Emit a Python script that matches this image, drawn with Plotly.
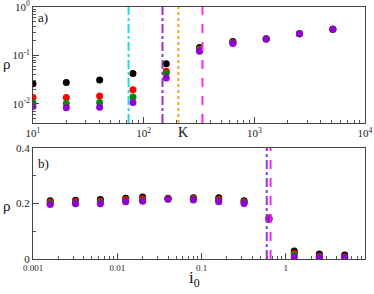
import plotly.graph_objects as go

# ---- data: panel a) rho vs K ----
K = [10, 20, 40, 80, 160, 320, 640, 1280, 2560, 5120]
rho_a_black = [0.026, 0.0275, 0.031, 0.042, 0.067, 0.145, 0.193, 0.220, 0.281, 0.348]
rho_a_red = [0.0135, 0.0135, 0.0144, 0.0195, 0.047, 0.136, 0.185, 0.219, 0.280, 0.347]
rho_a_green = [0.0103, 0.0101, 0.0106, 0.0138, 0.043, 0.130, 0.180, 0.218, 0.280, 0.347]
rho_a_purple = [0.0087, 0.0082, 0.0084, 0.0106, 0.034, 0.122, 0.175, 0.218, 0.279, 0.346]
vlines_a = [73, 148, 206, 340]
vcolors_a = ["#22d8e8", "#9a2fd6", "#f5a623", "#ff22ff"]
vdash_a = ["dashdot", "dashdot", "dot", "dash"]
xticks_a = [10, 100, 1000, 10000]
xticktext_a = ["10<sup>1</sup>", "10<sup>2</sup>", "10<sup>3</sup>", "10<sup>4</sup>"]
yticks_a = [1, 0.1, 0.01]
yticktext_a = ["10<sup>0</sup>", "10<sup>-1</sup>", "10<sup>-2</sup>"]

# ---- data: panel b) rho vs i0 ----
i0 = [0.0016, 0.0032, 0.0063, 0.0126, 0.02, 0.04, 0.08, 0.16, 0.32, 0.63, 1.26, 2.5, 5.0]
rho_b_black = [0.210, 0.212, 0.214, 0.219, 0.223, 0.219, 0.221, 0.221, 0.210, 0.148, 0.029, 0.018, 0.014]
rho_b_red = [0.205, 0.207, 0.208, 0.214, 0.217, 0.217, 0.218, 0.215, 0.206, 0.146, 0.020, 0.010, 0.008]
rho_b_green = [0.200, 0.202, 0.203, 0.209, 0.211, 0.216, 0.215, 0.210, 0.203, 0.144, 0.014, 0.007, 0.006]
rho_b_purple = [0.196, 0.199, 0.199, 0.206, 0.208, 0.215, 0.213, 0.206, 0.200, 0.143, 0.006, 0.005, 0.005]
vlines_b = [0.594, 0.66]
vcolors_b = ["#8a3fd6", "#ff22ff"]
vdash_b = ["dashdot", "dash"]
xticks_b = [0.001, 0.01, 0.1, 1]
xticktext_b = ["0.001", "0.01", "0.1", "1"]
yticks_b = [0, 0.2, 0.4]
yticktext_b = ["0", "0.2", "0.4"]

series_colors = ["#000000", "#ff0000", "#008a00", "#9400d3"]
FONT = "Liberation Serif"

W, H = 374, 294
L, R, T, B = 33, 9, 7, 35
PW, PH = W - L - R, H - T - B


def px(sx):  # screen x -> paper x
    return (sx - L) / PW


def py(sy):  # screen y -> paper y
    return (H - B - sy) / PH


fig = go.Figure()
for ys, c in zip([rho_a_black, rho_a_red, rho_a_green, rho_a_purple], series_colors):
    fig.add_trace(go.Scatter(x=K, y=ys, mode="markers", xaxis="x", yaxis="y",
                             marker=dict(color=c, size=7), showlegend=False))
for ys, c in zip([rho_b_black, rho_b_red, rho_b_green, rho_b_purple], series_colors):
    fig.add_trace(go.Scatter(x=i0, y=ys, mode="markers", xaxis="x2", yaxis="y2",
                             marker=dict(color=c, size=7), showlegend=False))

for xv, c, d in zip(vlines_a, vcolors_a, vdash_a):
    fig.add_shape(type="line", xref="x", yref="y domain", x0=xv, x1=xv, y0=0, y1=1,
                  line=dict(color=c, width=2, dash=d))
for xv, c, d in zip(vlines_b, vcolors_b, vdash_b):
    fig.add_shape(type="line", xref="x2", yref="y2 domain", x0=xv, x1=xv, y0=0, y1=1,
                  line=dict(color=c, width=2, dash=d))

minor = dict(ticks="inside", ticklen=3, tickcolor="#555", showgrid=False)
axis_common = dict(showline=True, linecolor="#444", linewidth=1, mirror=True,
                   ticks="inside", tickcolor="#444", ticklen=6, showgrid=False,
                   zeroline=False, automargin=False, ticklabeloverflow="allow",
                   tickfont=dict(family=FONT, size=11, color="#222"))

top_dom = [py(123), 1]
bot_dom = [0, py(148)]

fig.update_layout(
    width=W, height=H,
    margin=dict(l=L, r=R, t=T, b=B),
    font=dict(family=FONT),
    paper_bgcolor="white", plot_bgcolor="white",
    xaxis=dict(type="log", range=[1, 4], domain=[0, 1], anchor="y",
               tickmode="array", tickvals=xticks_a, ticktext=xticktext_a,
               minor=dict(dtick="D1", **minor), **axis_common),
    yaxis=dict(type="log", range=[-2.4, 0.001], domain=top_dom, anchor="x",
               tickmode="array", tickvals=yticks_a, ticktext=yticktext_a,
               minor=dict(dtick="D1", **minor), **axis_common),
    xaxis2=dict(type="log", range=[-3, 0.94], domain=[0, 1], anchor="y2",
                tickmode="array", tickvals=xticks_b, ticktext=xticktext_b,
                minor=dict(dtick="D1", **minor),
                **{**axis_common, "tickfont": dict(family=FONT, size=9, color="#222")}),
    yaxis2=dict(range=[0, 0.4], domain=bot_dom, anchor="x2",
                tickmode="array", tickvals=yticks_b, ticktext=yticktext_b,
                minor=dict(dtick=0.1, **minor), **axis_common),
)

ann = dict(showarrow=False, xref="paper", yref="paper")
fig.add_annotation(text="a)", x=px(36), y=py(18), xanchor="left", yanchor="middle",
                   font=dict(family=FONT, size=13, color="#111"), **ann)
fig.add_annotation(text="b)", x=px(36), y=py(163), xanchor="left", yanchor="middle",
                   font=dict(family=FONT, size=13, color="#111"), **ann)
fig.add_annotation(text="ρ", x=px(7), y=py(64), xanchor="center", yanchor="middle",
                   font=dict(family=FONT, size=15, color="#111"), **ann)
fig.add_annotation(text="ρ", x=px(7), y=py(206), xanchor="center", yanchor="middle",
                   font=dict(family=FONT, size=15, color="#111"), **ann)
fig.add_annotation(text="K", x=px(183), y=py(132), xanchor="center", yanchor="middle",
                   font=dict(family=FONT, size=14, color="#111"), **ann)
fig.add_annotation(text="i<sub>0</sub>", x=px(194), y=py(279), xanchor="center",
                   yanchor="middle", font=dict(family=FONT, size=17, color="#111"), **ann)

# The page has the browser's default 8px body margin; remove it so the
# 374x294 figure fills the window exactly.
fig.write_html("out.html", config={"displayModeBar": False},
               post_script="document.body.style.margin='0';")
